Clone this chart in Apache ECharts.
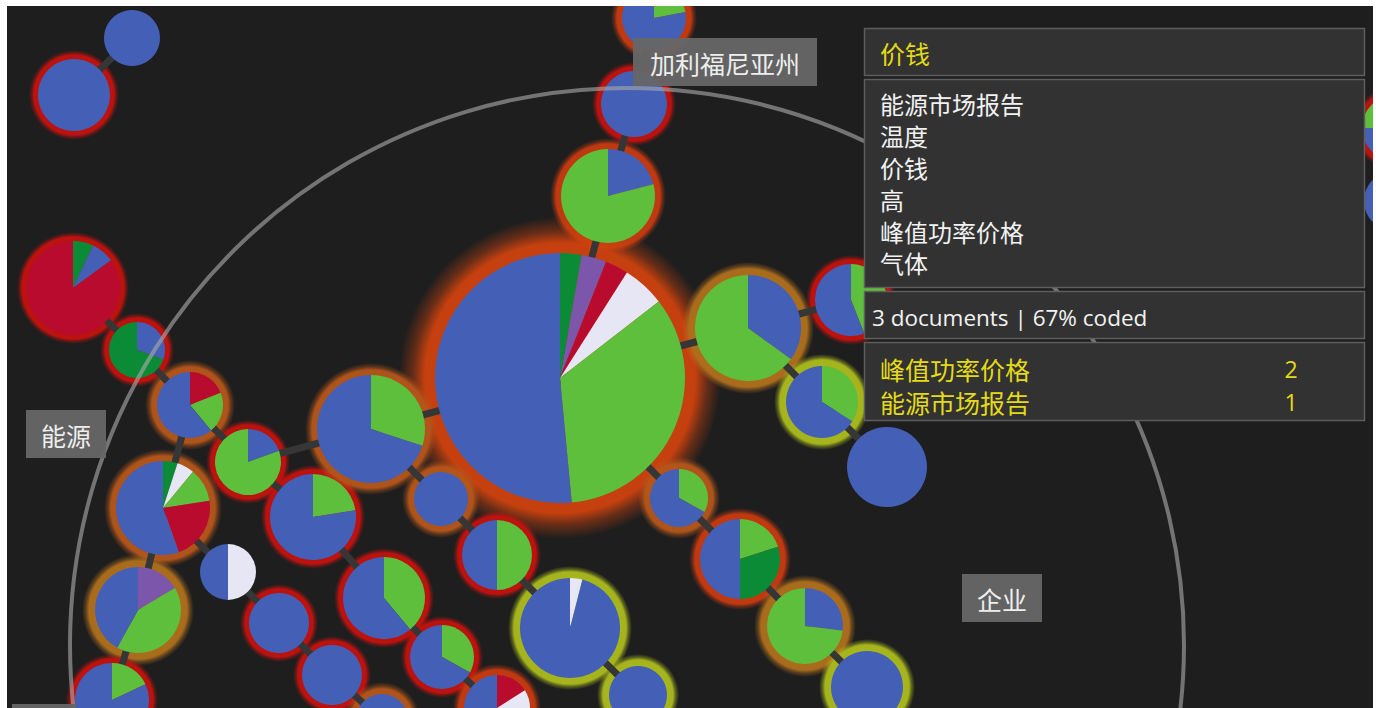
<!DOCTYPE html>
<html><head><meta charset="utf-8">
<script src="https://cdn.jsdelivr.net/npm/echarts@6/dist/echarts.min.js"></script>
<style>html,body{margin:0;padding:0;background:#fff;overflow:hidden}#chart{width:1376px;height:708px}</style>
</head><body><div id="chart"></div>
<script>
// ---- data ----
const codes = ['能源市场报告', '峰值功率价格', '温度', '价钱', '高', '气体'];
const nodeIds = ['a','b','c','d','e','big','f','g','h','i','r1','r2','j','k','l','m','n','o','p','q','rr','s','t','u','v','w','x','y','z','aa','ab','ac','ad','ae','af','ag'];
const nodeX = [132,74,654,634,608,560,748,851,822,887,1395,1394,73,137,190,248,163,313,371,441,497,570,638,679,740,805,867,138,112,228,279,332,384,442,497,382];
const nodeY = [38,95,18,104,196,378,328,300,402,467,128,201,288,350,405,462,508,517,429,499,555,628,695,498,559,626,687,610,700,572,623,675,598,657,708,720];
const nodeR = [28,36,32,33,47,125,53,36,36,40,33,30,47,28,33,33,47,43,54,27,35,50,29,29,40,38,36,43,37,28,30,30,41,32,33,26];
// halo level per node: 0 none, 1 low ... 6 highest
const nodeHalo = [0,1,2,1,2,6,4,1,5,0,1,0,1,1,3,1,3,1,3,3,1,5,5,3,2,4,5,4,1,0,1,1,1,1,2,3];
const nodeSlices = [
  [['能源市场报告',100]],
  [['能源市场报告',100]],
  [['峰值功率价格',22],['能源市场报告',78]],
  [['能源市场报告',100]],
  [['能源市场报告',21],['峰值功率价格',79]],
  [['温度',2.8],['气体',3.2],['价钱',3],['高',5.5],['峰值功率价格',34],['能源市场报告',51.5]],
  [['能源市场报告',35],['峰值功率价格',65]],
  [['峰值功率价格',44],['能源市场报告',56]],
  [['峰值功率价格',34],['能源市场报告',66]],
  [['能源市场报告',100]],
  [['能源市场报告',75],['峰值功率价格',25]],
  [['能源市场报告',100]],
  [['温度',7],['能源市场报告',8],['价钱',85]],
  [['能源市场报告',30.5],['温度',69.5]],
  [['价钱',19],['峰值功率价格',20],['能源市场报告',61]],
  [['能源市场报告',19.5],['峰值功率价格',80.5]],
  [['温度',5],['高',6],['峰值功率价格',11.5],['价钱',22],['能源市场报告',55.5]],
  [['峰值功率价格',22.5],['能源市场报告',77.5]],
  [['峰值功率价格',30],['能源市场报告',70]],
  [['能源市场报告',100]],
  [['峰值功率价格',50],['能源市场报告',50]],
  [['高',4],['能源市场报告',96]],
  [['能源市场报告',100]],
  [['峰值功率价格',33],['能源市场报告',67]],
  [['峰值功率价格',20],['温度',30],['能源市场报告',50]],
  [['能源市场报告',27],['峰值功率价格',73]],
  [['能源市场报告',100]],
  [['气体',16.5],['峰值功率价格',41.5],['能源市场报告',42]],
  [['峰值功率价格',18],['能源市场报告',82]],
  [['高',50],['能源市场报告',50]],
  [['能源市场报告',100]],
  [['能源市场报告',100]],
  [['峰值功率价格',39],['能源市场报告',61]],
  [['峰值功率价格',33],['能源市场报告',67]],
  [['价钱',16],['高',11],['能源市场报告',73]],
  [['能源市场报告',100]]
];
const links = [['a','b'],['c','d'],['d','e'],['e','big'],['big','f'],['f','g'],['f','h'],['h','i'],['big','p'],['big','u'],
  ['p','q'],['q','rr'],['rr','s'],['s','t'],['u','v'],['v','w'],['w','x'],['j','k'],['k','l'],['l','m'],['m','p'],['m','o'],
  ['l','n'],['n','aa'],['n','y'],['y','z'],['aa','ab'],['ab','ac'],['ac','ag'],['o','ad'],['ad','ae'],['ae','af']];
const ringData = [[627,645,557]];
const groupLabels = [['加利福尼亚州',725,62],['能源',66,434],['企业',1002,598],['',44,728]];
const panelTitle = '价钱';
const panelTerms = ['能源市场报告','温度','价钱','高','峰值功率价格','气体'];
const panelSummary = '3 documents | 67% coded';
const panelCountNames = ['峰值功率价格','能源市场报告'];
const panelCountValues = [2, 1];

// ---- styles ----
const codeColor = {'能源市场报告':'#4360b6','峰值功率价格':'#5dbf3c','温度':'#0b8b36','价钱':'#b80b2e','高':'#e6e6f4','气体':'#7c56aa'};
const haloStyle = {
  1:{c:[196,18,14],solid:4,fade:5},
  2:{c:[200,58,16],solid:5,fade:6},
  3:{c:[182,86,26],solid:5,fade:7},
  4:{c:[176,112,28],solid:6,fade:7},
  5:{c:[172,188,28],solid:6,fade:6},
  6:{c:[206,66,14],solid:10,fade:26}
};
const BG = '#1e1e1e';
const CJK = '"Noto Sans CJK SC","Noto Sans",sans-serif';

const idx = {}; nodeIds.forEach((id,i)=>idx[id]=i);
const nodeData = nodeIds.map((id,i)=>[nodeX[i],nodeY[i],nodeR[i],i]);
const haloData = nodeData.filter(d=>nodeHalo[d[3]]>0);
const linkData = links.map(([s,t])=>[nodeX[idx[s]],nodeY[idx[s]],nodeX[idx[t]],nodeY[idx[t]]]);

function rgba(c,a){return 'rgba('+c[0]+','+c[1]+','+c[2]+','+a+')';}

function haloItem(params, api){
  const i = api.value(3);
  const hs = haloStyle[nodeHalo[i]];
  const c = api.coord([api.value(0), api.value(1)]);
  const r = api.size([api.value(2), 0])[0];
  const R = r + hs.solid + hs.fade;
  const k = (r + hs.solid) / R;
  return {type:'circle', shape:{cx:c[0], cy:c[1], r:R}, silent:true,
    style:{fill:new echarts.graphic.RadialGradient(0.5,0.5,0.5,[
      {offset:0,color:rgba(hs.c,1)},{offset:k,color:rgba(hs.c,0.95)},
      {offset:k+(1-k)*0.45,color:rgba(hs.c,0.42)},{offset:1,color:rgba(hs.c,0)}])}};
}
function linkItem(params, api){
  const p1 = api.coord([api.value(0), api.value(1)]);
  const p2 = api.coord([api.value(2), api.value(3)]);
  return {type:'line', shape:{x1:p1[0],y1:p1[1],x2:p2[0],y2:p2[1]}, silent:true,
    style:{stroke:'#363636', lineWidth:7}};
}
function pieItem(params, api){
  const i = api.value(3);
  const c = api.coord([api.value(0), api.value(1)]);
  const r = api.size([api.value(2), 0])[0];
  const sl = nodeSlices[i];
  const total = sl.reduce((s,d)=>s+d[1],0);
  let a = -Math.PI/2;
  const children = sl.map(d=>{
    const a1 = a + d[1]/total*Math.PI*2;
    const el = {type:'sector', shape:{cx:c[0],cy:c[1],r:r,r0:0,startAngle:a,endAngle:a1,clockwise:true},
      style:{fill:codeColor[d[0]]}};
    a = a1; return el;
  });
  return {type:'group', children};
}
function ringItem(params, api){
  const c = api.coord([api.value(0), api.value(1)]);
  const r = api.size([api.value(2), 0])[0];
  return {type:'circle', shape:{cx:c[0],cy:c[1],r:r}, silent:true,
    style:{fill:'none', stroke:'rgba(170,170,170,0.62)', lineWidth:4}};
}

// ---- graphic overlay (labels, panel, frame) ----
const graphics = [];
groupLabels.forEach(([t,x,y])=>{
  const w = t ? t.length*26 + 28 : 64;
  graphics.push({type:'rect', z:100, shape:{x:x-w/2, y:y-24, width:w, height:48}, style:{fill:'rgba(102,102,102,0.96)'}});
  if (t) graphics.push({type:'text', z:101, x:x, y:y+1, style:{text:t, fill:'#eeeeee', font:'25px '+CJK, textAlign:'center', textVerticalAlign:'middle'}});
});
const boxes = [[28,47],[79,208],[291,47],[342,78]];
boxes.forEach(([y,h])=>graphics.push({type:'rect', z:100, shape:{x:864.5,y:y+0.5,width:500,height:h}, style:{fill:'#323232', stroke:'#5e5e5e', lineWidth:1.5}}));
graphics.push({type:'text', z:101, x:880, y:53, style:{text:panelTitle, fill:'#e4da16', font:'25px '+CJK, textVerticalAlign:'middle'}});
graphics.push({type:'text', z:101, x:880, y:88, style:{text:panelTerms.join('\n'), fill:'#f2f2f2', font:'24px '+CJK, lineHeight:31.8, textVerticalAlign:'top'}});
graphics.push({type:'text', z:101, x:872, y:317, style:{text:panelSummary, fill:'#f2f2f2', font:'22.5px "Open Sans","Noto Sans",sans-serif', textVerticalAlign:'middle'}});
graphics.push({type:'text', z:101, x:880, y:352, style:{text:panelCountNames.join('\n'), fill:'#e4da16', font:'25px '+CJK, lineHeight:33, textVerticalAlign:'top'}});
graphics.push({type:'text', z:101, x:1291, y:352, style:{text:panelCountValues.join('\n'), fill:'#e4da16', font:'23px "Open Sans","Noto Sans",sans-serif', lineHeight:33, textAlign:'center', textVerticalAlign:'top'}});
// white frame of the screenshot
graphics.push({type:'rect', z:200, shape:{x:0,y:0,width:1376,height:6}, style:{fill:'#ffffff'}});
graphics.push({type:'rect', z:200, shape:{x:0,y:0,width:7,height:708}, style:{fill:'#ffffff'}});
graphics.push({type:'rect', z:200, shape:{x:1373,y:0,width:3,height:708}, style:{fill:'#ffffff'}});

const chart = echarts.init(document.getElementById('chart'), null, {renderer:'svg'});
chart.setOption({
  backgroundColor: BG,
  animation: false,
  grid:{left:0,right:0,top:0,bottom:0},
  xAxis:{type:'value', min:0, max:1376, show:false},
  yAxis:{type:'value', min:0, max:708, inverse:true, show:false},
  series:[
    {type:'custom', name:'halo', renderItem:haloItem, data:haloData, encode:{x:0,y:1}, z:1},
    {type:'custom', name:'links', renderItem:linkItem, data:linkData, encode:{x:[0,2],y:[1,3]}, z:2},
    {type:'custom', name:'nodes', renderItem:pieItem, data:nodeData, encode:{x:0,y:1}, z:3},
    {type:'custom', name:'ring', renderItem:ringItem, data:ringData, encode:{x:0,y:1}, z:4}
  ],
  graphic: graphics
});
</script></body></html>
